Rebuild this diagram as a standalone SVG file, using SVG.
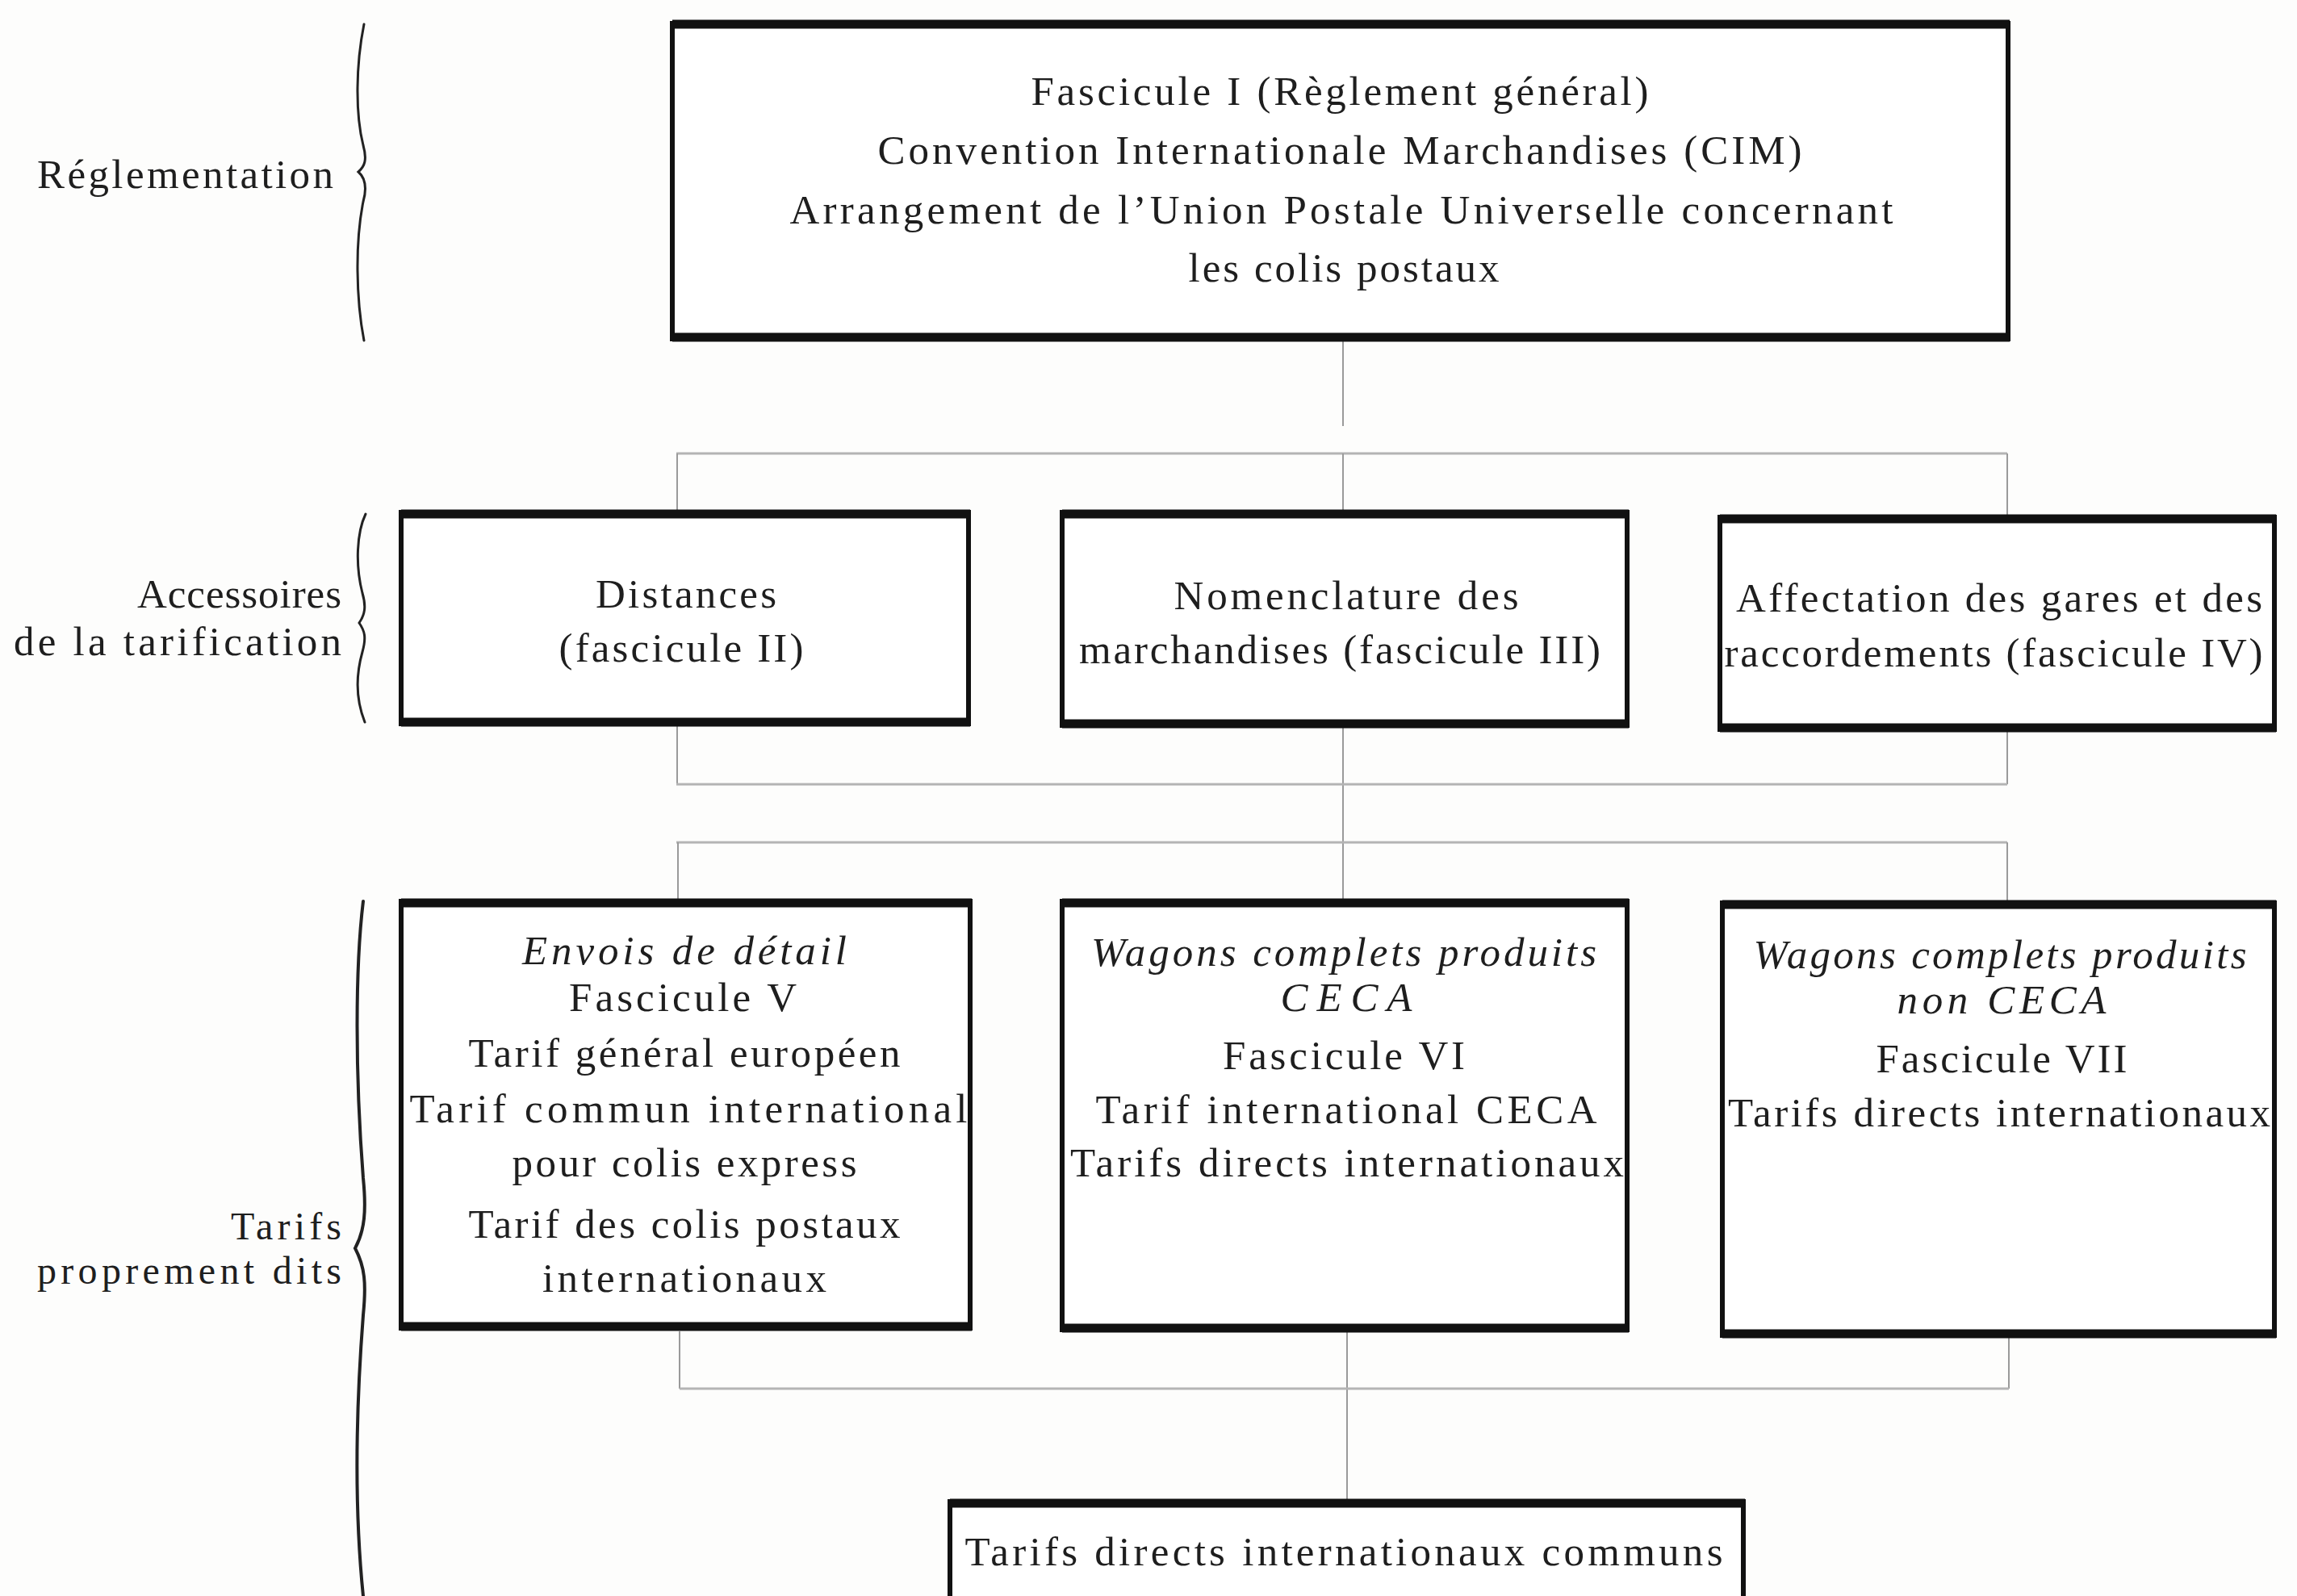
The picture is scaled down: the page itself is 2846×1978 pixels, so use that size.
<svg xmlns="http://www.w3.org/2000/svg" width="2846" height="1978" viewBox="0 0 2846 1978">
<style>
.t{font-family:"Liberation Serif","Times New Roman",serif;font-size:51px;fill:#1e1e1e;text-anchor:middle}
.lbl{text-anchor:end}
.it{font-style:italic}
.sm{font-size:48px}
.bar{stroke:#111;stroke-width:11;fill:none}
.side{stroke:#111;stroke-width:6;fill:none}
.conn{stroke:#9a9a9a;stroke-width:2;fill:none}
.brk{stroke:#b4b4b4;stroke-width:3;fill:none}
.brace{stroke:#222;stroke-width:3;fill:none;stroke-linecap:round}
</style>
<rect x="0" y="0" width="2846" height="1978" fill="#fdfdfc"/>

<g id="connectors">
  <line class="conn" x1="1664" y1="423" x2="1664" y2="528"/>
  <line class="brk" x1="838" y1="562" x2="2487" y2="562"/>
  <line class="conn" x1="839" y1="562" x2="839" y2="632"/>
  <line class="conn" x1="1664" y1="562" x2="1664" y2="632"/>
  <line class="conn" x1="2487" y1="562" x2="2487" y2="638"/>
  <line class="conn" x1="839" y1="900" x2="839" y2="972"/>
  <line class="conn" x1="1664" y1="900" x2="1664" y2="1114"/>
  <line class="conn" x1="2487" y1="907" x2="2487" y2="972"/>
  <line class="brk" x1="838" y1="972" x2="2487" y2="972"/>
  <line class="brk" x1="838" y1="1044" x2="2487" y2="1044"/>
  <line class="conn" x1="840" y1="1044" x2="840" y2="1114"/>
  <line class="conn" x1="2487" y1="1044" x2="2487" y2="1116"/>
  <line class="conn" x1="842" y1="1650" x2="842" y2="1721"/>
  <line class="conn" x1="1669" y1="1650" x2="1669" y2="1858"/>
  <line class="conn" x1="2489" y1="1658" x2="2489" y2="1721"/>
  <line class="brk" x1="842" y1="1721" x2="2489" y2="1721"/>
</g>

<g id="braces">
  <path id="brace-reglementation" class="brace" d="M451,30 C441,80 440,140 450,180 C455,198 452,206 444,213 C452,220 455,232 450,250 C440,300 441,370 451,422"/>
  <path id="brace-accessoires" class="brace" d="M453,637 C442,660 440,700 449,735 C454,752 452,762 445,772 C452,782 454,790 449,808 C440,840 442,870 452,895"/>
  <path id="brace-tarifs" class="brace" style="stroke-width:4" d="M450,1117 C440,1200 440,1330 450,1460 C454,1500 452,1525 440,1547 C452,1570 454,1590 450,1630 C440,1760 440,1880 450,1978"/>
</g>

<g id="labels">
  <text class="t lbl" x="413" y="233" textLength="367">Réglementation</text>
  <text class="t lbl" x="423" y="753" textLength="253">Accessoires</text>
  <text class="t lbl" x="423" y="812" textLength="406">de la tarification</text>
  <text class="t lbl sm" x="423" y="1536" textLength="137">Tarifs</text>
  <text class="t lbl sm" x="423" y="1591" textLength="377">proprement dits</text>
</g>

<g id="node-reglement">
  <rect x="833" y="30" width="1655" height="388" fill="#fff" stroke="none"/>
  <line class="side" x1="833" y1="26" x2="833" y2="423"/>
  <line class="side" x1="2488" y1="26" x2="2488" y2="423"/>
  <line class="bar" x1="833" y1="30" x2="2490" y2="30"/>
  <line class="bar" x1="833" y1="418" x2="2490" y2="418"/>
  <text class="t" x="1660" y="130" textLength="765">Fascicule I (Règlement général)</text>
  <text class="t" x="1660" y="203" textLength="1145">Convention Internationale Marchandises (CIM)</text>
  <text class="t" x="1662" y="277" textLength="1367">Arrangement de l’Union Postale Universelle concernant</text>
  <text class="t" x="1665" y="349" textLength="385">les colis postaux</text>
</g>

<g id="node-distances">
  <rect x="497" y="637" width="703" height="258" fill="#fff" stroke="none"/>
  <line class="side" x1="497" y1="632" x2="497" y2="900"/>
  <line class="side" x1="1200" y1="632" x2="1200" y2="900"/>
  <line class="bar" x1="497" y1="637" x2="1202" y2="637"/>
  <line class="bar" x1="497" y1="895" x2="1202" y2="895"/>
  <text class="t" x="850" y="753" textLength="224">Distances</text>
  <text class="t" x="844" y="820" textLength="303">(fascicule II)</text>
</g>

<g id="node-nomenclature">
  <rect x="1316" y="637" width="700" height="260" fill="#fff" stroke="none"/>
  <line class="side" x1="1316" y1="632" x2="1316" y2="902"/>
  <line class="side" x1="2016" y1="632" x2="2016" y2="902"/>
  <line class="bar" x1="1316" y1="637" x2="2018" y2="637"/>
  <line class="bar" x1="1316" y1="897" x2="2018" y2="897"/>
  <text class="t" x="1668" y="755" textLength="427">Nomenclature des</text>
  <text class="t" x="1660" y="822" textLength="646">marchandises (fascicule III)</text>
</g>

<g id="node-affectation">
  <rect x="2131" y="643" width="687" height="259" fill="#fff" stroke="none"/>
  <line class="side" x1="2131" y1="638" x2="2131" y2="907"/>
  <line class="side" x1="2818" y1="638" x2="2818" y2="907"/>
  <line class="bar" x1="2131" y1="643" x2="2820" y2="643"/>
  <line class="bar" x1="2131" y1="902" x2="2820" y2="902"/>
  <text class="t" x="2477" y="758" textLength="652">Affectation des gares et des</text>
  <text class="t" x="2470" y="826" textLength="667">raccordements (fascicule IV)</text>
</g>

<g id="node-envois-detail">
  <rect x="497" y="1119" width="705" height="525" fill="#fff" stroke="none"/>
  <line class="side" x1="497" y1="1114" x2="497" y2="1649"/>
  <line class="side" x1="1202" y1="1114" x2="1202" y2="1649"/>
  <line class="bar" x1="497" y1="1119" x2="1204" y2="1119"/>
  <line class="bar" x1="497" y1="1644" x2="1204" y2="1644"/>
  <text class="t it" x="848" y="1195" textLength="402">Envois de détail</text>
  <text class="t" x="846" y="1253" textLength="282">Fascicule V</text>
  <text class="t" x="848" y="1322" textLength="535">Tarif général européen</text>
  <text class="t" x="853" y="1391" textLength="691">Tarif commun international</text>
  <text class="t" x="848" y="1458" textLength="427">pour colis express</text>
  <text class="t" x="848" y="1534" textLength="535">Tarif des colis postaux</text>
  <text class="t" x="848" y="1601" textLength="352">internationaux</text>
</g>

<g id="node-wagons-ceca">
  <rect x="1316" y="1119" width="700" height="527" fill="#fff" stroke="none"/>
  <line class="side" x1="1316" y1="1114" x2="1316" y2="1651"/>
  <line class="side" x1="2016" y1="1114" x2="2016" y2="1651"/>
  <line class="bar" x1="1316" y1="1119" x2="2018" y2="1119"/>
  <line class="bar" x1="1316" y1="1646" x2="2018" y2="1646"/>
  <text class="t it" x="1665" y="1197" textLength="626">Wagons complets produits</text>
  <text class="t it" x="1668" y="1253" textLength="163">CECA</text>
  <text class="t" x="1665" y="1325" textLength="300">Fascicule VI</text>
  <text class="t" x="1668" y="1392" textLength="621">Tarif international CECA</text>
  <text class="t" x="1669" y="1458" textLength="686">Tarifs directs internationaux</text>
</g>

<g id="node-wagons-non-ceca">
  <rect x="2134" y="1121" width="684" height="532" fill="#fff" stroke="none"/>
  <line class="side" x1="2134" y1="1116" x2="2134" y2="1658"/>
  <line class="side" x1="2818" y1="1116" x2="2818" y2="1658"/>
  <line class="bar" x1="2134" y1="1121" x2="2820" y2="1121"/>
  <line class="bar" x1="2134" y1="1653" x2="2820" y2="1653"/>
  <text class="t it" x="2478" y="1200" textLength="611">Wagons complets produits</text>
  <text class="t it" x="2480" y="1256" textLength="259">non CECA</text>
  <text class="t" x="2480" y="1329" textLength="311">Fascicule VII</text>
  <text class="t" x="2477" y="1396" textLength="672">Tarifs directs internationaux</text>
</g>

<g id="node-tarifs-communs">
  <rect x="1177" y="1863" width="983" height="140" fill="#fff" stroke="none"/>
  <line class="side" x1="1177" y1="1858" x2="1177" y2="1990"/>
  <line class="side" x1="2160" y1="1858" x2="2160" y2="1990"/>
  <line class="bar" x1="1177" y1="1863" x2="2162" y2="1863"/>
  <text class="t" x="1665" y="1940" textLength="939">Tarifs directs internationaux communs</text>
</g>
</svg>
